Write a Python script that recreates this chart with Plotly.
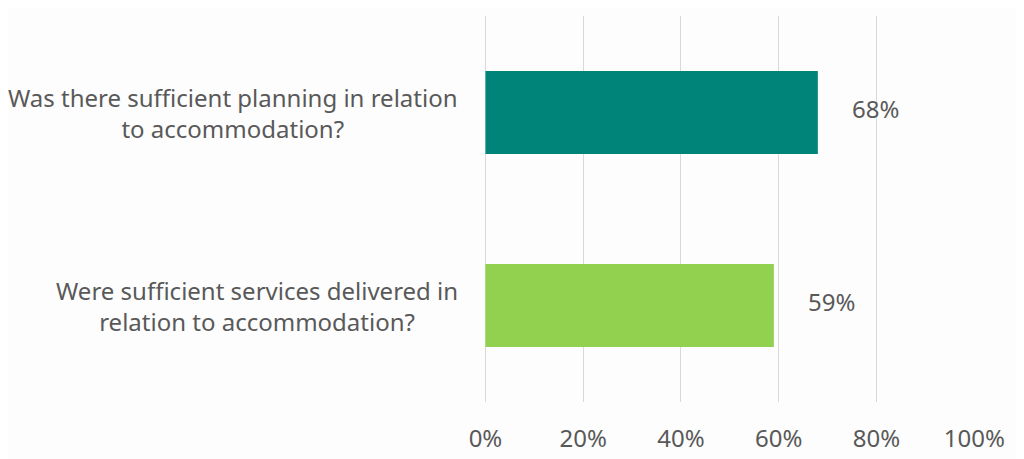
import plotly.graph_objects as go

categories = ["Was there sufficient planning in relation<br>to accommodation?",
              "Were sufficient services delivered in<br>relation to accommodation?"]
values = [68, 59]
colors = ["#00847a", "#92d050"]
tick_vals = [0, 20, 40, 60, 80, 100]
tick_text = ["0%", "20%", "40%", "60%", "80%", "100%"]

FONT = "Noto Sans"
FS = 24
TXT = "#595959"

fig = go.Figure()
fig.add_trace(go.Bar(
    y=categories, x=values, orientation="h",
    marker=dict(color=colors, line=dict(width=0)),
    width=0.43, hoverinfo="skip",
))

for c, v in zip(categories, values):
    fig.add_annotation(x=v, y=c, xref="x", yref="y", text=f"{v}%",
                       showarrow=False, xanchor="left", xshift=32, yshift=4,
                       font=dict(family=FONT, size=FS, color=TXT))
    fig.add_annotation(x=0, y=c, xref="paper", yref="y", text=c,
                       showarrow=False, xanchor="right", xshift=-24, align="center",
                       font=dict(family=FONT, size=FS, color=TXT))

fig.update_layout(
    width=1016, height=451,
    margin=dict(l=476, r=49, t=8, b=57),
    paper_bgcolor="#fdfdfd", plot_bgcolor="#fdfdfd",
    showlegend=False,
    font=dict(family=FONT, size=FS, color=TXT),
)
fig.update_xaxes(range=[-0.3, 100.15], tickvals=tick_vals, ticktext=tick_text,
                 showgrid=True, gridcolor="#d9d9d9", gridwidth=1,
                 zeroline=False, showline=False, automargin=False,
                 ticks="outside", ticklen=15, tickcolor="rgba(0,0,0,0)",
                 tickfont=dict(family=FONT, size=FS, color=TXT))
fig.update_yaxes(autorange="reversed", showticklabels=False, showgrid=False,
                 zeroline=False, showline=False, automargin=False)

fig.write_html("out.html")
